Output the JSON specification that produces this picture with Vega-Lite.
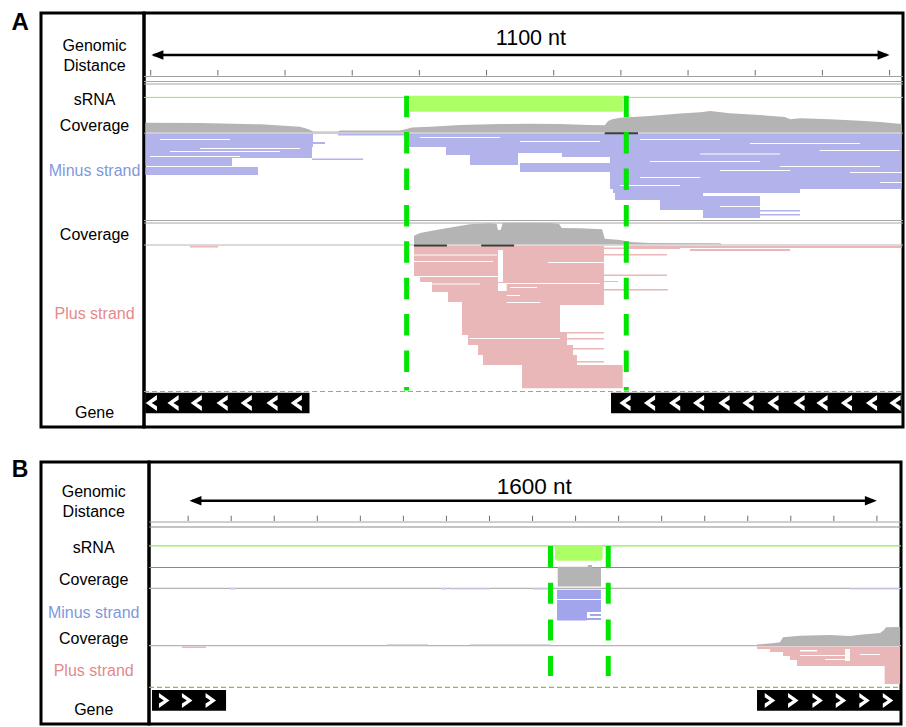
{
  "$schema": "https://vega.github.io/schema/vega-lite/v6.json",
  "background": "white",
  "padding": {"left": 0, "top": 10, "right": 0, "bottom": 0},
  "bounds": "full",
  "spacing": 30,
  "config": {"view": {"stroke": "#000000", "strokeWidth": 3}, "font": "Liberation Sans"},
  "vconcat": [
    {
      "spacing": 0,
      "bounds": "flush",
      "hconcat": [
        {
          "width": 41, "height": 414, "view": {"stroke": null},
          "data": {"values": [{"col": 0.49, "lane": 9.7, "label": "A"}]},
          "mark": {"type": "text", "fontSize": 24, "fontWeight": "bold", "font": "Liberation Sans", "color": "#000000"},
          "encoding": {
            "x": {"field": "col", "type": "quantitative", "scale": {"domain": [0, 1]}, "axis": null},
            "y": {"field": "lane", "type": "quantitative", "scale": {"domain": [0, 414], "reverse": true, "zero": false, "nice": false}, "axis": null},
            "text": {"field": "label"}
          }
        },
        {
          "width": 103, "height": 414,
          "data": {"values": [
            {"col": 0.52, "lane": 32.6, "label": "Genomic", "role": "track"},
            {"col": 0.52, "lane": 52.6, "label": "Distance", "role": "track"},
            {"col": 0.52, "lane": 86.7, "label": "sRNA", "role": "track"},
            {"col": 0.52, "lane": 112.9, "label": "Coverage", "role": "track"},
            {"col": 0.52, "lane": 158.2, "label": "Minus strand", "role": "minus"},
            {"col": 0.52, "lane": 222.1, "label": "Coverage", "role": "track"},
            {"col": 0.52, "lane": 301.1, "label": "Plus strand", "role": "plus"},
            {"col": 0.52, "lane": 400.1, "label": "Gene", "role": "track"}
          ]},
          "mark": {"type": "text", "fontSize": 16, "font": "Liberation Sans"},
          "encoding": {
            "x": {"field": "col", "type": "quantitative", "scale": {"domain": [0, 1]}, "axis": null},
            "y": {"field": "lane", "type": "quantitative", "scale": {"domain": [0, 414], "reverse": true, "zero": false, "nice": false}, "axis": null},
            "text": {"field": "label"},
            "color": {"field": "role", "type": "nominal", "scale": {"domain": ["track", "minus", "plus"], "range": ["#000000", "#7f99dc", "#e48a8a"]}, "legend": null}
          }
        },
        {
          "width": 759, "height": 414,
          "resolve": {"scale": {"color": "independent"}},
          "encoding": {
            "x": {"field": "pos", "type": "quantitative", "scale": {"domain": [-10, 1120], "nice": false, "zero": false}, "axis": null},
            "y": {"field": "lane", "type": "quantitative", "scale": {"domain": [0, 414], "reverse": true, "nice": false, "zero": false}, "axis": null}
          },
          "layer": [
            {
              "data": {"values": [
                {"pos": -10, "pos2": 1120, "lane": 63.5, "kind": "ruler"},
                {"pos": -10, "pos2": 1120, "lane": 68.5, "kind": "separator"},
                {"pos": -10, "pos2": 1120, "lane": 71, "kind": "separator"},
                {"pos": -10, "pos2": 1120, "lane": 84.4, "kind": "sRNA"},
                {"pos": -10, "pos2": 1120, "lane": 120.2, "kind": "baseline"},
                {"pos": -10, "pos2": 1120, "lane": 207.5, "kind": "separator"},
                {"pos": -10, "pos2": 1120, "lane": 210, "kind": "separator"},
                {"pos": -10, "pos2": 1120, "lane": 232, "kind": "baseline"}
              ]},
              "mark": {"type": "rule", "strokeWidth": 1},
              "encoding": {
                "x2": {"field": "pos2"},
                "color": {"field": "kind", "type": "nominal", "scale": {"domain": ["ruler", "separator", "sRNA", "baseline"], "range": ["#a0a0a0", "#a6a6a6", "#8fe85a", "#b6b6b6"]}, "legend": null}
              }
            },
            {
              "data": {"values": [
                {"pos": 0, "lane": 57, "lane2": 62.5}, {"pos": 100, "lane": 57, "lane2": 62.5}, {"pos": 200, "lane": 57, "lane2": 62.5},
                {"pos": 300, "lane": 57, "lane2": 62.5}, {"pos": 400, "lane": 57, "lane2": 62.5}, {"pos": 500, "lane": 57, "lane2": 62.5},
                {"pos": 600, "lane": 57, "lane2": 62.5}, {"pos": 700, "lane": 57, "lane2": 62.5}, {"pos": 800, "lane": 57, "lane2": 62.5},
                {"pos": 900, "lane": 57, "lane2": 62.5}, {"pos": 1000, "lane": 57, "lane2": 62.5}, {"pos": 1100, "lane": 57, "lane2": 62.5}
              ]},
              "mark": {"type": "rule", "color": "#6e6e6e", "strokeWidth": 1},
              "encoding": {"y2": {"field": "lane2"}}
            },
            {
              "data": {"values": [{"pos": 4, "pos2": 1096, "lane": 42}]},
              "mark": {"type": "rule", "color": "#000000", "strokeWidth": 2.6},
              "encoding": {"x2": {"field": "pos2"}}
            },
            {
              "data": {"values": [{"pos": 1, "lane": 42, "dir": "left"}, {"pos": 1100, "lane": 42, "dir": "right"}]},
              "mark": {"type": "point", "filled": true, "color": "#000000", "size": 144, "opacity": 1},
              "encoding": {
                "shape": {"field": "dir", "type": "nominal", "scale": {"domain": ["left", "right"], "range": ["M0,0L2,-0.8L2,0.8Z", "M0,0L-2,-0.8L-2,0.8Z"]}, "legend": null}
              }
            },
            {
              "data": {"values": [{"pos": 566, "lane": 26.3, "label": "1100 nt"}]},
              "mark": {"type": "text", "fontSize": 21.5, "font": "Liberation Sans", "color": "#000000"},
              "encoding": {"text": {"field": "label"}}
            },
            {
              "data": {"values": [
                {"pos": -8, "lane": 109.7}, {"pos": 73, "lane": 110}, {"pos": 163, "lane": 111.3}, {"pos": 222, "lane": 113.7},
                {"pos": 234, "lane": 116}, {"pos": 242, "lane": 118.5}, {"pos": 279, "lane": 118.5}, {"pos": 282, "lane": 117.5},
                {"pos": 371, "lane": 117.5}, {"pos": 379, "lane": 116.3}, {"pos": 389, "lane": 114.5}, {"pos": 416, "lane": 113.7},
                {"pos": 461, "lane": 112}, {"pos": 520, "lane": 111}, {"pos": 565, "lane": 110.7}, {"pos": 609, "lane": 111},
                {"pos": 654, "lane": 112}, {"pos": 676, "lane": 112.3}, {"pos": 681, "lane": 108}, {"pos": 687, "lane": 106.3},
                {"pos": 699, "lane": 104.7}, {"pos": 743, "lane": 103}, {"pos": 788, "lane": 100.5}, {"pos": 818, "lane": 99.3},
                {"pos": 833, "lane": 98}, {"pos": 862, "lane": 100.3}, {"pos": 907, "lane": 102}, {"pos": 944, "lane": 104},
                {"pos": 952, "lane": 106.3}, {"pos": 967, "lane": 105.3}, {"pos": 1011, "lane": 106.3}, {"pos": 1056, "lane": 107.7},
                {"pos": 1086, "lane": 109}, {"pos": 1118, "lane": 111}
              ]},
              "mark": {"type": "area", "color": "#b4b4b4"},
              "encoding": {"y2": {"datum": 119.5}}
            },
            {
              "data": {"values": [
                {"pos": 392, "lane": 222.7}, {"pos": 401, "lane": 220}, {"pos": 431, "lane": 216.3}, {"pos": 460, "lane": 213},
                {"pos": 475, "lane": 211.3}, {"pos": 505, "lane": 210.3}, {"pos": 515, "lane": 211}, {"pos": 517, "lane": 217},
                {"pos": 521, "lane": 217}, {"pos": 524, "lane": 210}, {"pos": 550, "lane": 209.7}, {"pos": 594, "lane": 210},
                {"pos": 608, "lane": 211}, {"pos": 612, "lane": 215}, {"pos": 639, "lane": 215.3}, {"pos": 672, "lane": 216.3},
                {"pos": 676, "lane": 225.7}, {"pos": 699, "lane": 227}, {"pos": 714, "lane": 229}, {"pos": 743, "lane": 230},
                {"pos": 848, "lane": 230.3}, {"pos": 850, "lane": 231.3}
              ]},
              "mark": {"type": "area", "color": "#b4b4b4"},
              "encoding": {"y2": {"datum": 231.3}}
            },
            {
              "data": {"values": [
                {"pos": -8, "pos2": 241.6, "lane": 121, "lane2": 134},
                {"pos": -8, "pos2": 240.1, "lane": 134, "lane2": 145},
                {"pos": -8, "pos2": 121, "lane": 145, "lane2": 153},
                {"pos": -8, "pos2": 159.7, "lane": 154, "lane2": 162},
                {"pos": 240, "pos2": 316, "lane": 145.5, "lane2": 147},
                {"pos": 241.6, "pos2": 259.5, "lane": 129, "lane2": 131},
                {"pos": 279, "pos2": 378.6, "lane": 121, "lane2": 122.5},
                {"pos": 378.6, "pos2": 1118, "lane": 121, "lane2": 134},
                {"pos": 439.6, "pos2": 1118, "lane": 134, "lane2": 140},
                {"pos": 439.6, "pos2": 546.8, "lane": 140, "lane2": 142},
                {"pos": 475.3, "pos2": 546.8, "lane": 142, "lane2": 152},
                {"pos": 612.3, "pos2": 1118, "lane": 140, "lane2": 144},
                {"pos": 683.8, "pos2": 1118, "lane": 144, "lane2": 150},
                {"pos": 549.8, "pos2": 1118, "lane": 150, "lane2": 159},
                {"pos": 683.8, "pos2": 1118, "lane": 159, "lane2": 176},
                {"pos": 688.3, "pos2": 966.6, "lane": 176, "lane2": 180},
                {"pos": 691.2, "pos2": 822.2, "lane": 180, "lane2": 187},
                {"pos": 758.2, "pos2": 822.2, "lane": 187, "lane2": 197},
                {"pos": 822.2, "pos2": 907.1, "lane": 183, "lane2": 205},
                {"pos": 907.1, "pos2": 966.6, "lane": 197, "lane2": 198.5},
                {"pos": 907.1, "pos2": 966.6, "lane": 201, "lane2": 202.5}
              ]},
              "mark": {"type": "rect", "color": "#b1b3ea"},
              "encoding": {"x2": {"field": "pos2"}, "y2": {"field": "lane2"}}
            },
            {
              "data": {"values": [
                {"pos": 392, "pos2": 674.8, "lane": 233, "lane2": 264},
                {"pos": 401, "pos2": 674.8, "lane": 264, "lane2": 269},
                {"pos": 418.8, "pos2": 674.8, "lane": 269, "lane2": 279},
                {"pos": 442.6, "pos2": 674.8, "lane": 279, "lane2": 289},
                {"pos": 463.4, "pos2": 674.8, "lane": 289, "lane2": 292},
                {"pos": 463.4, "pos2": 609.3, "lane": 292, "lane2": 319},
                {"pos": 463.4, "pos2": 619.8, "lane": 319, "lane2": 322},
                {"pos": 472.4, "pos2": 619.8, "lane": 322, "lane2": 332},
                {"pos": 487.3, "pos2": 628.7, "lane": 332, "lane2": 342},
                {"pos": 494.7, "pos2": 634.6, "lane": 342, "lane2": 352},
                {"pos": 552.8, "pos2": 702.7, "lane": 352, "lane2": 375.3},
                {"pos": 609, "pos2": 674.8, "lane": 319, "lane2": 320.5},
                {"pos": 619.8, "pos2": 674.8, "lane": 325, "lane2": 326.5},
                {"pos": 628.7, "pos2": 674.8, "lane": 335, "lane2": 336.5},
                {"pos": 634.6, "pos2": 674.8, "lane": 348, "lane2": 349.5},
                {"pos": 674.8, "pos2": 788, "lane": 234.5, "lane2": 236},
                {"pos": 674.8, "pos2": 768.6, "lane": 241, "lane2": 242.5},
                {"pos": 674.8, "pos2": 768.6, "lane": 261.5, "lane2": 263},
                {"pos": 674.8, "pos2": 770, "lane": 276, "lane2": 277.5},
                {"pos": 674.8, "pos2": 695.6, "lane": 268, "lane2": 269},
                {"pos": 706.1, "pos2": 1118, "lane": 233, "lane2": 235},
                {"pos": 802.9, "pos2": 951.7, "lane": 236, "lane2": 238},
                {"pos": 58.5, "pos2": 100.2, "lane": 233, "lane2": 234.5}
              ]},
              "mark": {"type": "rect", "color": "#e9b7b7"},
              "encoding": {"x2": {"field": "pos2"}, "y2": {"field": "lane2"}}
            },
            {
              "data": {"values": [
                {"pos": 13.8, "pos2": 118, "lane": 126, "lane2": 127},
                {"pos": 73.4, "pos2": 222.3, "lane": 135, "lane2": 136},
                {"pos": 28.7, "pos2": 192.5, "lane": 138, "lane2": 139},
                {"pos": -1, "pos2": 133, "lane": 143, "lane2": 144},
                {"pos": 401, "pos2": 520, "lane": 124, "lane2": 125},
                {"pos": 549.8, "pos2": 668.9, "lane": 128, "lane2": 129},
                {"pos": 728.5, "pos2": 847.5, "lane": 126, "lane2": 127},
                {"pos": 892, "pos2": 1056, "lane": 130, "lane2": 131},
                {"pos": 996, "pos2": 1115, "lane": 137, "lane2": 138},
                {"pos": 818, "pos2": 937, "lane": 140.5, "lane2": 141.5},
                {"pos": 743, "pos2": 907, "lane": 148, "lane2": 149},
                {"pos": 937, "pos2": 1086, "lane": 153, "lane2": 154},
                {"pos": 1041, "pos2": 1118, "lane": 159, "lane2": 160},
                {"pos": 728.5, "pos2": 818, "lane": 164, "lane2": 165},
                {"pos": 847.5, "pos2": 952, "lane": 157, "lane2": 158},
                {"pos": 1086, "pos2": 1118, "lane": 169, "lane2": 170},
                {"pos": 698.7, "pos2": 788, "lane": 172, "lane2": 173},
                {"pos": 847.5, "pos2": 907, "lane": 193, "lane2": 194},
                {"pos": 392, "pos2": 515.6, "lane": 241.5, "lane2": 242.5},
                {"pos": 392, "pos2": 509.6, "lane": 248, "lane2": 249},
                {"pos": 392, "pos2": 520, "lane": 263, "lane2": 264},
                {"pos": 530.4, "pos2": 668.9, "lane": 270, "lane2": 271},
                {"pos": 535, "pos2": 575, "lane": 274, "lane2": 275},
                {"pos": 530, "pos2": 550, "lane": 282, "lane2": 283},
                {"pos": 530, "pos2": 580, "lane": 289, "lane2": 290},
                {"pos": 475, "pos2": 609, "lane": 325, "lane2": 326},
                {"pos": 591.5, "pos2": 674.8, "lane": 249, "lane2": 250},
                {"pos": 418.8, "pos2": 490, "lane": 270.5, "lane2": 271.5},
                {"pos": 517, "pos2": 524.5, "lane": 237, "lane2": 269},
                {"pos": 517, "pos2": 530, "lane": 270, "lane2": 278}
              ]},
              "mark": {"type": "rect", "color": "#ffffff"},
              "encoding": {"x2": {"field": "pos2"}, "y2": {"field": "lane2"}}
            },
            {
              "data": {"values": [
                {"pos": 676, "pos2": 725.5, "lane": 120.3},
                {"pos": 392, "pos2": 441, "lane": 232.4},
                {"pos": 492, "pos2": 541, "lane": 232.4}
              ]},
              "mark": {"type": "rule", "color": "#3c3c3c", "strokeWidth": 2},
              "encoding": {"x2": {"field": "pos2"}}
            },
            {
              "data": {"values": [{"pos": 386, "pos2": 703, "lane": 82.7, "lane2": 98.7}]},
              "mark": {"type": "rect", "color": "#adff66"},
              "encoding": {"x2": {"field": "pos2"}, "y2": {"field": "lane2"}}
            },
            {
              "data": {"values": [{"pos": -10, "pos2": 1120, "lane": 378.5}]},
              "mark": {"type": "rule", "color": "#92b94e", "strokeWidth": 1.2, "strokeDash": [5, 3]},
              "encoding": {"x2": {"field": "pos2"}}
            },
            {
              "data": {"values": [
                {"pos": -8, "pos2": 236.4, "lane": 379.7, "lane2": 400.3},
                {"pos": 685.3, "pos2": 1118, "lane": 379.7, "lane2": 400.3}
              ]},
              "mark": {"type": "rect", "color": "#000000"},
              "encoding": {"x2": {"field": "pos2"}, "y2": {"field": "lane2"}}
            },
            {
              "data": {"values": [
                {"pos": 0.9, "lane": 390}, {"pos": 33.2, "lane": 390}, {"pos": 67.8, "lane": 390}, {"pos": 106.3, "lane": 390},
                {"pos": 142.2, "lane": 390}, {"pos": 180.6, "lane": 390}, {"pos": 216.7, "lane": 390},
                {"pos": 706.1, "lane": 390}, {"pos": 742.6, "lane": 390}, {"pos": 780, "lane": 390}, {"pos": 815.6, "lane": 390},
                {"pos": 853.5, "lane": 390}, {"pos": 889.2, "lane": 390}, {"pos": 926.4, "lane": 390}, {"pos": 965.2, "lane": 390},
                {"pos": 999.4, "lane": 390}, {"pos": 1035.8, "lane": 390}, {"pos": 1073.1, "lane": 390}, {"pos": 1108.1, "lane": 390}
              ]},
              "mark": {"type": "point", "filled": true, "color": "#ffffff", "opacity": 1, "size": 256, "shape": "M0.7,-1L-0.7,0L0.7,1L0.7,0.42L0.05,0L0.7,-0.42Z"}
            },
            {
              "data": {"values": [{"pos": 381, "lane": 82.7, "lane2": 377.5}, {"pos": 708, "lane": 82.7, "lane2": 377.5}]},
              "mark": {"type": "rule", "color": "#00e600", "strokeWidth": 5, "strokeDash": [21.5, 14.9]},
              "encoding": {"y2": {"field": "lane2"}}
            }
          ]
        }
      ]
    },
    {
      "spacing": 0,
      "bounds": "flush",
      "hconcat": [
        {
          "width": 41, "height": 262, "view": {"stroke": null},
          "data": {"values": [{"col": 0.49, "lane": 8.3, "label": "B"}]},
          "mark": {"type": "text", "fontSize": 23, "fontWeight": "bold", "font": "Liberation Sans", "color": "#000000"},
          "encoding": {
            "x": {"field": "col", "type": "quantitative", "scale": {"domain": [0, 1]}, "axis": null},
            "y": {"field": "lane", "type": "quantitative", "scale": {"domain": [0, 262], "reverse": true, "zero": false, "nice": false}, "axis": null},
            "text": {"field": "label"}
          }
        },
        {
          "width": 108, "height": 262,
          "data": {"values": [
            {"col": 0.488, "lane": 30.4, "label": "Genomic", "role": "track"},
            {"col": 0.488, "lane": 50.4, "label": "Distance", "role": "track"},
            {"col": 0.488, "lane": 86.1, "label": "sRNA", "role": "track"},
            {"col": 0.488, "lane": 117.7, "label": "Coverage", "role": "track"},
            {"col": 0.488, "lane": 151.2, "label": "Minus strand", "role": "minus"},
            {"col": 0.488, "lane": 176.7, "label": "Coverage", "role": "track"},
            {"col": 0.488, "lane": 209.4, "label": "Plus strand", "role": "plus"},
            {"col": 0.488, "lane": 247.6, "label": "Gene", "role": "track"}
          ]},
          "mark": {"type": "text", "fontSize": 16, "font": "Liberation Sans"},
          "encoding": {
            "x": {"field": "col", "type": "quantitative", "scale": {"domain": [0, 1]}, "axis": null},
            "y": {"field": "lane", "type": "quantitative", "scale": {"domain": [0, 262], "reverse": true, "zero": false, "nice": false}, "axis": null},
            "text": {"field": "label"},
            "color": {"field": "role", "type": "nominal", "scale": {"domain": ["track", "minus", "plus"], "range": ["#000000", "#7f99dc", "#e48a8a"]}, "legend": null}
          }
        },
        {
          "width": 752, "height": 262,
          "resolve": {"scale": {"color": "independent"}},
          "encoding": {
            "x": {"field": "pos", "type": "quantitative", "scale": {"domain": [-91, 1656], "nice": false, "zero": false}, "axis": null},
            "y": {"field": "lane", "type": "quantitative", "scale": {"domain": [0, 262], "reverse": true, "nice": false, "zero": false}, "axis": null}
          },
          "layer": [
            {
              "data": {"values": [
                {"pos": -91, "pos2": 1656, "lane": 60, "kind": "ruler"},
                {"pos": -91, "pos2": 1656, "lane": 65, "kind": "separator"},
                {"pos": -91, "pos2": 1656, "lane": 83.8, "kind": "sRNA"},
                {"pos": -91, "pos2": 1656, "lane": 105.5, "kind": "separator"},
                {"pos": -91, "pos2": 1656, "lane": 126.3, "kind": "baseline"},
                {"pos": -91, "pos2": 1656, "lane": 183.7, "kind": "baseline"}
              ]},
              "mark": {"type": "rule", "strokeWidth": 1.2},
              "encoding": {
                "x2": {"field": "pos2"},
                "color": {"field": "kind", "type": "nominal", "scale": {"domain": ["ruler", "separator", "sRNA", "baseline"], "range": ["#a0a0a0", "#8a8a8a", "#8fe85a", "#b4b4b4"]}, "legend": null}
              }
            },
            {
              "data": {"values": [
                {"pos": 0, "lane": 53.7, "lane2": 59}, {"pos": 100, "lane": 53.7, "lane2": 59}, {"pos": 200, "lane": 53.7, "lane2": 59},
                {"pos": 300, "lane": 53.7, "lane2": 59}, {"pos": 400, "lane": 53.7, "lane2": 59}, {"pos": 500, "lane": 53.7, "lane2": 59},
                {"pos": 600, "lane": 53.7, "lane2": 59}, {"pos": 700, "lane": 53.7, "lane2": 59}, {"pos": 800, "lane": 53.7, "lane2": 59},
                {"pos": 900, "lane": 53.7, "lane2": 59}, {"pos": 1000, "lane": 53.7, "lane2": 59}, {"pos": 1100, "lane": 53.7, "lane2": 59},
                {"pos": 1200, "lane": 53.7, "lane2": 59}, {"pos": 1300, "lane": 53.7, "lane2": 59}, {"pos": 1400, "lane": 53.7, "lane2": 59},
                {"pos": 1500, "lane": 53.7, "lane2": 59}, {"pos": 1600, "lane": 53.7, "lane2": 59}
              ]},
              "mark": {"type": "rule", "color": "#6e6e6e", "strokeWidth": 1},
              "encoding": {"y2": {"field": "lane2"}}
            },
            {
              "data": {"values": [{"pos": 10, "pos2": 1592, "lane": 38.7}]},
              "mark": {"type": "rule", "color": "#000000", "strokeWidth": 2.6},
              "encoding": {"x2": {"field": "pos2"}}
            },
            {
              "data": {"values": [{"pos": 3, "lane": 38.7, "dir": "left"}, {"pos": 1600, "lane": 38.7, "dir": "right"}]},
              "mark": {"type": "point", "filled": true, "color": "#000000", "size": 144, "opacity": 1},
              "encoding": {
                "shape": {"field": "dir", "type": "nominal", "scale": {"domain": ["left", "right"], "range": ["M0,0L2,-0.8L2,0.8Z", "M0,0L-2,-0.8L-2,0.8Z"]}, "legend": null}
              }
            },
            {
              "data": {"values": [{"pos": 804, "lane": 24.6, "label": "1600 nt"}]},
              "mark": {"type": "text", "fontSize": 22.5, "font": "Liberation Sans", "color": "#000000"},
              "encoding": {"text": {"field": "label"}}
            },
            {
              "data": {"values": [
                {"pos": 858.5, "lane": 104.7}, {"pos": 928, "lane": 104.7}, {"pos": 929, "lane": 103}, {"pos": 938, "lane": 103},
                {"pos": 939, "lane": 105.5}, {"pos": 959, "lane": 105.5}
              ]},
              "mark": {"type": "area", "color": "#b4b4b4"},
              "encoding": {"y2": {"datum": 124.4}}
            },
            {
              "data": {"values": [
                {"pos": 1321.5, "lane": 182.5}, {"pos": 1351.7, "lane": 181.5}, {"pos": 1375, "lane": 180.3}, {"pos": 1382, "lane": 175.3},
                {"pos": 1421.4, "lane": 173.7}, {"pos": 1491, "lane": 173}, {"pos": 1537.5, "lane": 174}, {"pos": 1560.8, "lane": 172.7},
                {"pos": 1607.3, "lane": 171}, {"pos": 1616.6, "lane": 168}, {"pos": 1621.3, "lane": 165.3}, {"pos": 1654, "lane": 165}
              ]},
              "mark": {"type": "area", "color": "#b4b4b4"},
              "encoding": {"y2": {"datum": 183.3}}
            },
            {
              "data": {"values": [
                {"pos": 462, "pos2": 557, "lane": 182.2, "lane2": 183.5},
                {"pos": 654.7, "pos2": 840.6, "lane": 182.2, "lane2": 183.5}
              ]},
              "mark": {"type": "rect", "color": "#c8c8c8"},
              "encoding": {"x2": {"field": "pos2"}, "y2": {"field": "lane2"}}
            },
            {
              "data": {"values": [
                {"pos": 97, "pos2": 111, "lane": 125.8, "lane2": 127.6},
                {"pos": 587, "pos2": 601, "lane": 125.8, "lane2": 127.6},
                {"pos": 608, "pos2": 701, "lane": 126.3, "lane2": 127.6},
                {"pos": 801, "pos2": 836, "lane": 126.3, "lane2": 127.6},
                {"pos": 1537.5, "pos2": 1654, "lane": 126.3, "lane2": 127.6}
              ]},
              "mark": {"type": "rect", "color": "#c9caf2"},
              "encoding": {"x2": {"field": "pos2"}, "y2": {"field": "lane2"}}
            },
            {
              "data": {"values": [
                {"pos": 856.9, "pos2": 959.1, "lane": 127.7, "lane2": 150},
                {"pos": 856.9, "pos2": 926.6, "lane": 150, "lane2": 158.5},
                {"pos": 933.5, "pos2": 959.1, "lane": 152, "lane2": 154},
                {"pos": 926.6, "pos2": 959.1, "lane": 156, "lane2": 158}
              ]},
              "mark": {"type": "rect", "color": "#a3a5ec"},
              "encoding": {"x2": {"field": "pos2"}, "y2": {"field": "lane2"}}
            },
            {
              "data": {"values": [
                {"pos": 1321.5, "pos2": 1654, "lane": 184.5, "lane2": 187},
                {"pos": 1351.7, "pos2": 1654, "lane": 187, "lane2": 190},
                {"pos": 1382, "pos2": 1654, "lane": 190, "lane2": 194},
                {"pos": 1398.2, "pos2": 1654, "lane": 194, "lane2": 198},
                {"pos": 1414.4, "pos2": 1654, "lane": 198, "lane2": 204},
                {"pos": 1618, "pos2": 1654, "lane": 204, "lane2": 222},
                {"pos": -14.3, "pos2": 41.4, "lane": 184.5, "lane2": 186}
              ]},
              "mark": {"type": "rect", "color": "#e9b7b7"},
              "encoding": {"x2": {"field": "pos2"}, "y2": {"field": "lane2"}}
            },
            {
              "data": {"values": [
                {"pos": 856.9, "pos2": 959.1, "lane": 137, "lane2": 138},
                {"pos": 1421.4, "pos2": 1461, "lane": 188, "lane2": 189.5},
                {"pos": 1421.4, "pos2": 1537.5, "lane": 193, "lane2": 194},
                {"pos": 1479.5, "pos2": 1537.5, "lane": 197, "lane2": 198},
                {"pos": 1526, "pos2": 1537.5, "lane": 187, "lane2": 199},
                {"pos": 1560.8, "pos2": 1607.3, "lane": 192, "lane2": 193}
              ]},
              "mark": {"type": "rect", "color": "#ffffff"},
              "encoding": {"x2": {"field": "pos2"}, "y2": {"field": "lane2"}}
            },
            {
              "data": {"values": [{"pos": 852.2, "pos2": 962.8, "lane": 83, "lane2": 98.7}]},
              "mark": {"type": "rect", "color": "#adff66", "cornerRadius": 3},
              "encoding": {"x2": {"field": "pos2"}, "y2": {"field": "lane2"}}
            },
            {
              "data": {"values": [{"pos": -91, "pos2": 1656, "lane": 225.3}]},
              "mark": {"type": "rule", "color": "#92b94e", "strokeWidth": 1.2, "strokeDash": [5, 3]},
              "encoding": {"x2": {"field": "pos2"}}
            },
            {
              "data": {"values": [
                {"pos": -84, "pos2": 88, "lane": 228, "lane2": 248.7},
                {"pos": 1321.5, "pos2": 1654, "lane": 228, "lane2": 248.7}
              ]},
              "mark": {"type": "rect", "color": "#000000"},
              "encoding": {"x2": {"field": "pos2"}, "y2": {"field": "lane2"}}
            },
            {
              "data": {"values": [
                {"pos": -55.7, "lane": 238.4}, {"pos": -2.3, "lane": 238.4}, {"pos": 52.6, "lane": 238.4},
                {"pos": 1351.7, "lane": 238.4}, {"pos": 1405.8, "lane": 238.4}, {"pos": 1462.5, "lane": 238.4},
                {"pos": 1516.6, "lane": 238.4}, {"pos": 1571.3, "lane": 238.4}, {"pos": 1625.9, "lane": 238.4}
              ]},
              "mark": {"type": "point", "filled": true, "color": "#ffffff", "opacity": 1, "size": 225, "shape": "M-0.7,-1L0.7,0L-0.7,1L-0.7,0.42L-0.05,0L-0.7,-0.42Z"}
            },
            {
              "data": {"values": [{"pos": 841.8, "lane": 84, "lane2": 214}, {"pos": 975.9, "lane": 84, "lane2": 214}]},
              "mark": {"type": "rule", "color": "#00e600", "strokeWidth": 5, "strokeDash": [21, 15.7]},
              "encoding": {"y2": {"field": "lane2"}}
            }
          ]
        }
      ]
    }
  ]
}
